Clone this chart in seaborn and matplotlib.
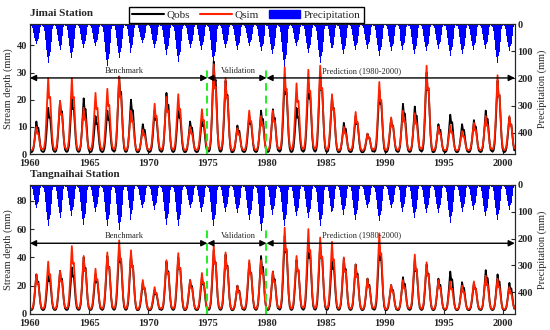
import numpy as np
import pandas as pd
import seaborn as sns
import matplotlib.pyplot as plt
from matplotlib.lines import Line2D
from matplotlib.patches import Patch

# annual peak values (1960-2000)
years = list(range(1960, 2001))

jimai_obs_peak = [12, 17, 19.5, 21, 20.5, 14, 16, 28.5, 20, 11, 16, 22.5, 17, 12, 13, 34, 27, 10.5, 14, 16,
                  16.5, 28, 17, 26, 30, 21, 11.5, 14, 7.5, 23.5, 13, 18.5, 17.5, 30, 11, 14.5, 11, 12.5, 16, 27, 13.5]
jimai_sim_peak = [10, 28, 19.5, 28, 17, 22.5, 24, 28.5, 16, 9, 18.5, 21, 22, 10, 16.5, 33, 28, 9.5, 16, 14,
                  16, 32, 26, 31, 32.5, 22, 10, 15.5, 7.5, 26.5, 13.5, 16, 15, 32.5, 10, 10.5, 8.5, 11.5, 14, 29, 14]
jimai_prec_peak = [75, 143, 94, 124, 88, 82, 155, 124, 106, 70, 88, 112, 140, 88, 94, 143, 88, 95, 80, 100,
                   110, 157, 82, 106, 143, 105, 110, 95, 90, 118, 100, 95, 110, 100, 90, 118, 110, 95, 90, 143, 100]

tang_obs_peak = [28, 29, 30.5, 33, 40, 28, 41, 46, 42, 22, 17, 37, 40, 24, 26, 45, 42, 20, 36, 41,
                 30, 55, 38, 50, 50, 40, 39, 35, 25, 48, 20.5, 26, 38, 35, 25, 30, 22.5, 22, 31, 28, 22]
tang_sim_peak = [28, 37, 30.5, 48, 41, 32, 43.5, 52, 45, 24, 19, 38, 43, 24, 29, 48, 43.5, 20, 38, 38,
                 30, 61, 41, 60, 54, 51, 40, 35, 25, 57, 20.5, 24, 42, 36.5, 24, 23, 20, 23, 27, 25, 19]
tang_prec_peak = [86, 154, 123, 115, 148, 99, 154, 167, 130, 86, 93, 148, 154, 86, 99, 154, 100, 105, 130, 173,
                  111, 154, 117, 123, 154, 117, 111, 130, 86, 136, 86, 99, 123, 105, 105, 142, 99, 93, 117, 130, 93]

jimai_low = (0.6, 1.2)
tang_low = (2.5, 3.0)
obs_shape = [0.02, 0.01, 0.03, 0.12, 0.36, 0.68, 1.0, 0.78, 0.8, 0.52, 0.22, 0.06]
sim_shape = [0.03, 0.02, 0.05, 0.15, 0.4, 0.7, 1.0, 0.72, 0.74, 0.48, 0.2, 0.07]
prec_shape = [0.05, 0.07, 0.18, 0.42, 0.66, 0.85, 1.0, 0.82, 0.72, 0.45, 0.12, 0.04]

periods = [("Benchmark", 1960, 1975, 1968), ("Validation", 1975, 1980, 1977.6),
           ("Prediction (1980-2000)", 1980, 2001, 1988)]


def monthly(peaks, low, shape):
    p = np.array(peaks, dtype=float)
    return (low + np.outer(p - low, shape)).ravel()


def draw_station(ax, name, obs, sim, prec, lows, ylim, plim, yticks, arrow_y, label_y, dash_top):
    t = np.repeat(years, 12) + np.tile(np.arange(12), len(years)) / 12.0
    df = pd.DataFrame({"t": t + 0.5 / 12,
                       "Qobs": monthly(obs, lows[0], obs_shape),
                       "Qsim": monthly(sim, lows[1], sim_shape)})
    ax2 = ax.twinx()
    ax2.bar(t, monthly(prec, 0, prec_shape), width=1 / 12, align="edge", color="#0000ff", linewidth=0)
    ax2.set_ylim(plim, 0)
    ax2.set_yticks([0, 100, 200, 300, 400])
    ax2.set_ylabel("Precipitation (mm)", fontsize=7.5, labelpad=3)
    ax2.tick_params(direction="in", labelsize=7.5, length=3, pad=2)

    ax.set_zorder(ax2.get_zorder() + 1)
    ax.patch.set_visible(False)
    sns.lineplot(data=df, x="t", y="Qobs", ax=ax, color="black", lw=1.3)
    sns.lineplot(data=df, x="t", y="Qsim", ax=ax, color="#ff2200", lw=1.3)

    for xv in (1975, 1980):
        ax.plot([xv, xv], [0, dash_top], color="#22ee22", ls=(0, (4, 2.5)), lw=1.4)
    for label, x0, x1, xc in periods:
        ax.annotate("", xy=(x1, arrow_y), xytext=(x0, arrow_y),
                    arrowprops=dict(arrowstyle="<|-|>", color="black", lw=1.0,
                                    mutation_scale=9, shrinkA=0, shrinkB=0))
        ax.text(xc, label_y, label, fontsize=6, ha="center", va="center")

    ax.set_xlim(1960, 2001)
    ax.set_ylim(0, ylim)
    ax.set_xticks(range(1960, 2001, 5))
    ax.set_yticks(yticks)
    ax.set_xlabel("")
    ax.set_ylabel("Stream depth (mm)", fontsize=7.5, labelpad=3)
    ax.tick_params(axis="y", direction="in", labelsize=7.5, length=3, pad=2)
    ax.tick_params(axis="x", direction="in", labelsize=7.5, length=3, pad=3.5)
    for lab in ax.get_xticklabels() + ax.get_yticklabels() + ax2.get_yticklabels():
        lab.set_fontweight("bold")
    ax.text(0.0, 1.05, name, transform=ax.transAxes, fontsize=8, fontweight="bold", va="bottom")


sns.set_style("ticks")
plt.rcParams["font.family"] = ["Liberation Serif", "DejaVu Serif"]
plt.rcParams["axes.linewidth"] = 0.8

fig = plt.figure(figsize=(5.5, 3.3), dpi=100)
ax_top = fig.add_axes([0.0545, 0.533, 0.8815, 0.394])
ax_bot = fig.add_axes([0.0545, 0.0485, 0.8815, 0.391])

draw_station(ax_top, "Jimai Station", jimai_obs_peak, jimai_sim_peak, jimai_prec_peak,
             jimai_low, 47.8, 478, [0, 10, 20, 30, 40], 28, 30.6, 32)
draw_station(ax_bot, "Tangnaihai Station", tang_obs_peak, tang_sim_peak, tang_prec_peak,
             tang_low, 91.2, 481, [0, 20, 40, 60, 80], 50, 55.4, 60)

handles = [Line2D([], [], color="black", lw=1.5), Line2D([], [], color="#ff2200", lw=1.5),
           Patch(color="#0000ff")]
fig.legend(handles, ["Qobs", "Qsim", "Precipitation"], loc="upper center",
           bbox_to_anchor=(0.448, 0.997), ncol=3, fontsize=8, frameon=True, fancybox=False,
           edgecolor="black", handlelength=2.8, columnspacing=0.9, borderpad=0.3,
           handletextpad=0.3, framealpha=1)

plt.savefig("out.png", dpi=100)
